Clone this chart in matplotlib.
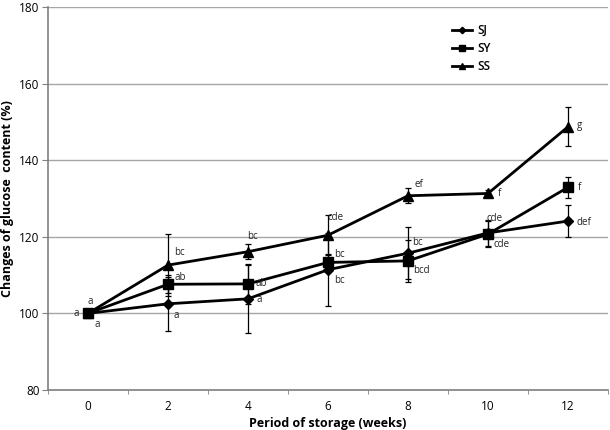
import numpy as np
import matplotlib
matplotlib.use("Agg")
import matplotlib.pyplot as plt

plt.rcParams['font.family'] = ['Open Sans', 'DejaVu Sans']

weeks = [0, 2, 4, 6, 8, 10, 12]

sj = [100, 102.5, 103.8, 111.4, 115.7, 121.0, 124.1]
sy = [100, 107.6, 107.7, 113.3, 113.7, 120.7, 132.9]
ss = [100, 112.6, 116.1, 120.4, 130.7, 131.3, 148.7]

sj_err = [0, 7.0, 8.8, 9.5, 6.8, 3.3, 4.1]
sy_err = [0, 2.3, 5.3, 2.3, 5.5, 3.5, 2.7]
ss_err = [0, 8.0, 2.0, 5.2, 2.0, 1.0, 5.1]

sj_lab = ['a', 'a', 'a', 'bc', 'bc', 'cde', 'def']
sy_lab = ['a', 'ab', 'ab', 'bc', 'bcd', 'cde', 'f']
ss_lab = ['a', 'bc', 'bc', 'cde', 'ef', 'f', 'g']

# label offsets in pixels (dx, dy)
sj_off = [(9, -11), (8, -12), (11, -1), (11, -11), (9, 11), (14, -12), (16, -1)]
sy_off = [(-12, 0), (12, 7), (13, 0), (11, 8), (13, -10), (7, 16), (11, 0)]
ss_off = [(2, 12), (11, 13), (4, 15), (8, 18), (11, 11), (11, 0), (12, 1)]

fig = plt.figure(figsize=(6.1, 4.3), dpi=100)
ax = fig.add_axes([0.0787, 0.093, 0.918, 0.891])

series = [
    ('SJ', sj, sj_err, sj_lab, sj_off, 'D', 5.5),
    ('SY', sy, sy_err, sy_lab, sy_off, 's', 7),
    ('SS', ss, ss_err, ss_lab, ss_off, '^', 7),
]

for name, vals, err, labs, offs, mk, ms in series:
    ax.errorbar(weeks, vals, yerr=err, fmt='none', ecolor='black',
                elinewidth=0.9, capsize=2.5, capthick=0.9, zorder=2)
    ax.plot(weeks, vals, color='black', lw=2, marker=mk, ms=ms, label=name, zorder=3)
    for x, y, t, o in zip(weeks, vals, labs, offs):
        ax.annotate(t, (x, y), xytext=o, textcoords='offset pixels',
                    ha='center', va='center', fontsize=7, color='#222222')

ax.set_xlim(-1, 13)
ax.set_ylim(80, 180)
ax.set_yticks([80, 100, 120, 140, 160, 180])
ax.set_xticks(weeks)
ax.set_xticks(np.arange(-1, 14, 2), minor=True)
ax.tick_params(axis='x', which='major', length=0, labelsize=8.5, pad=7)
ax.tick_params(axis='x', which='minor', length=3, color='#808080')
ax.tick_params(axis='y', length=4, color='#808080', labelsize=8.5, pad=2)
ax.grid(axis='y', color='#a6a6a6', lw=1)
ax.set_axisbelow(True)
for s in ['top', 'right']:
    ax.spines[s].set_visible(False)
for s in ['left', 'bottom']:
    ax.spines[s].set_color('#808080')
    ax.spines[s].set_linewidth(1.2)

ax.set_xlabel('Period of storage (weeks)', fontsize=9, fontweight='bold', labelpad=3)
ax.set_ylabel('Changes of glucose  content (%)', fontsize=9, fontweight='bold', labelpad=4)

ax.legend(loc='upper left', bbox_to_anchor=(0.722, 0.956), frameon=False,
          prop={'size': 8.5, 'weight': 'semibold'}, handlelength=1.7,
          handletextpad=0.45, labelspacing=0.45, markerscale=0.6,
          borderpad=0, borderaxespad=0)

fig.savefig('out.png', dpi=100)
